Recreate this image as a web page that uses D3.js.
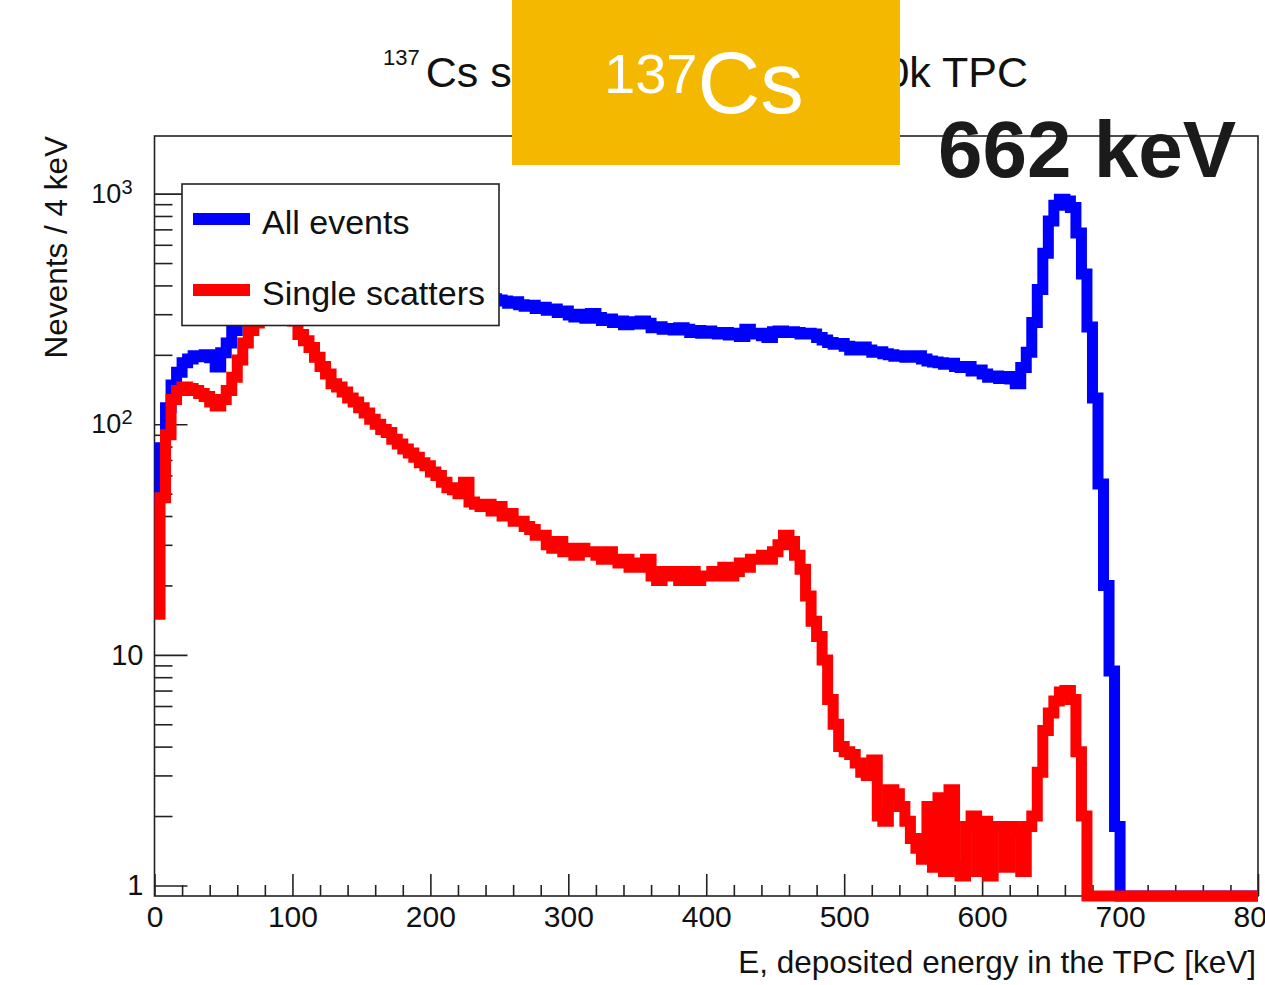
<!DOCTYPE html>
<html>
<head>
<meta charset="utf-8">
<script src="https://cdn.jsdelivr.net/npm/d3@7"></script>
<style>
    body { margin: 0; background: #ffffff; }
    svg { display: block; font-family: "Liberation Sans", Arial, Helvetica, sans-serif; }
</style>
</head>
<body>
<svg id="chart"></svg>
<script>
// Histogram settings: 200 bins of 4 keV, 0 - 800 keV
let binWidth = 4;
let xDomain = [0, 800];
let yDomain = [0.9, 1778];

// Counts per bin (0 = empty bin)
let allEvents = [
    48, 79, 118, 148, 168, 185, 192, 198, 196, 200,
    194, 177, 204, 225, 255, 290, 330, 380, 420, 450,
    470, 480, 476, 465, 455, 440, 430, 422, 415, 410,
    405, 400, 398, 395, 392, 390, 388, 385, 383, 380,
    382, 378, 375, 376, 372, 370, 372, 368, 365, 366,
    362, 360, 362, 358, 356, 357, 354, 352, 353, 350,
    348, 350, 346, 342, 335, 340, 330, 325, 328, 318,
    322, 312, 316, 305, 310, 298, 292, 300, 288, 302,
    290, 282, 286, 276, 280, 270, 278, 272, 280, 274,
    262, 265, 258, 260, 256, 262, 258, 250, 255, 248,
    254, 250, 246, 250, 244, 248, 240, 258, 246, 248,
    242, 238, 252, 254, 250, 252, 250, 246, 248, 246,
    238, 232, 226, 222, 224, 218, 210, 214, 216, 210,
    205, 206, 202, 200, 197, 198, 195, 196, 198, 192,
    188, 186, 185, 182, 184, 178, 176, 178, 170, 172,
    165, 160, 162, 158, 161, 157, 150, 176, 205, 276,
    384, 551, 760, 890, 945, 930, 870, 675, 448, 264,
    130, 55, 20, 8.5, 1.8, 0, 0, 0, 0, 0,
    0, 0, 0, 0, 0, 0, 0, 0, 0, 0,
    0, 0, 0, 0, 0, 0, 0, 0, 0, 0
];

let singleScatters = [
    15, 48, 90, 128, 140, 145, 143, 140, 136, 132,
    125, 120, 128, 140, 160, 190, 225, 255, 275, 290,
    300, 305, 300, 295, 290, 280, 245, 230, 215, 195,
    178, 165, 150, 145, 138, 130, 125, 118, 112, 105,
    100, 95, 92, 86, 82, 78, 75, 72, 68, 66,
    62, 60, 56, 53, 52, 50, 56, 46, 45, 44,
    45, 42, 44, 40, 41, 38, 38, 36, 35, 33,
    33, 30, 29, 31, 28, 29, 27, 29, 28, 28,
    27, 26, 28, 26, 25, 26, 24, 25, 24, 26,
    22, 21, 23, 22, 23, 21, 22, 23, 21, 22,
    22, 23, 22, 24, 22, 23, 25, 24, 26, 26,
    27, 26, 28, 30, 33, 31, 27, 23.5, 18, 14,
    12, 9.5, 6.4, 5.0, 4.0, 3.8, 3.7, 3.4, 3.1, 3.0,
    3.5, 2.0, 1.9, 2.6, 2.5, 2.2, 1.9, 1.6, 1.45, 1.3,
    2.2, 1.2, 2.4, 1.15, 2.6, 1.2, 1.1, 1.8, 2.0, 1.15,
    1.9, 1.1, 1.8, 1.8, 1.2, 1.8, 1.7, 1.15, 1.8, 2.0,
    3.1, 4.7, 5.6, 6.3, 6.9, 7.0, 6.4, 3.8, 2.0, 0,
    0, 0, 0, 0, 0, 0, 0, 0, 0, 0,
    0, 0, 0, 0, 0, 0, 0, 0, 0, 0,
    0, 0, 0, 0, 0, 0, 0, 0, 0, 0
];

// Tick labels
let xTickValues = [0, 100, 200, 300, 400, 500, 600, 700, 800];
let yTickValues = [1, 10, 100, 1000];
let yTickBase = ["1", "10", "10", "10"];
let yTickExp = ["", "", "2", "3"];

let legendNames = ["All events", "Single scatters"];
let seriesColors = ["#0000ff", "#ff0000"];

/*
 * Draws the whole picture
 */
function drawChart(){
    let width = 1265;
    let height = 985;

    // Frame of the plot
    let left = 154.5;
    let right = 1258;
    let top = 136;
    let bottom = 896;

    let lineColor = "#222222";
    let histWidth = 11;

    let svg = d3.select("#chart").attr("width", width).attr("height", height);

    svg.append("rect")
        .attr("width", width)
        .attr("height", height)
        .attr("fill", "#ffffff");

    let x = d3.scaleLinear().domain(xDomain).range([left, right]);
    let y = d3.scaleLog().domain(yDomain).range([bottom, top]);

    // Frame
    svg.append("rect")
        .attr("x", left)
        .attr("y", top)
        .attr("width", right - left)
        .attr("height", bottom - top)
        .attr("fill", "none")
        .attr("stroke", lineColor)
        .attr("stroke-width", 1.6);

    // X axis, major and minor ticks pointing into the frame
    let xMinor = d3.range(0, 801, 20).filter(function(d){ return d % 100 !== 0; });

    let xAxisMajor = svg.append("g")
        .attr("transform", "translate(0," + bottom + ")")
        .style("color", lineColor)
        .call(d3.axisBottom(x).tickValues(xTickValues).tickSize(-22).tickSizeOuter(0).tickPadding(10).tickFormat(d3.format("d")));
    xAxisMajor.select(".domain").remove();
    xAxisMajor.selectAll("line").attr("stroke-width", 1.6);
    xAxisMajor.selectAll("text")
        .attr("font-size", 30)
        .attr("font-family", "Liberation Sans, Arial, sans-serif")
        .attr("fill", "#111111");

    let xAxisMinor = svg.append("g")
        .attr("transform", "translate(0," + bottom + ")")
        .style("color", lineColor)
        .call(d3.axisBottom(x).tickValues(xMinor).tickSize(-11).tickSizeOuter(0).tickFormat(""));
    xAxisMinor.select(".domain").remove();
    xAxisMinor.selectAll("line").attr("stroke-width", 1.6);

    // Y axis (log), majors at the decades, minors 2..9
    let yMinor = [];
    [1, 10, 100].forEach(function(decade){
        for(let k = 2; k <= 9; k++){
            if(decade * k < yDomain[1]) yMinor.push(decade * k);
        }
    });

    let yAxisMajor = svg.append("g")
        .attr("transform", "translate(" + left + ",0)")
        .style("color", lineColor)
        .call(d3.axisLeft(y).tickValues(yTickValues).tickSize(-33).tickSizeOuter(0).tickPadding(11)
            .tickFormat(function(d, i){ return yTickBase[i]; }));
    yAxisMajor.select(".domain").remove();
    yAxisMajor.selectAll("line").attr("stroke-width", 1.6);
    yAxisMajor.selectAll("text")
        .attr("font-size", 29)
        .attr("font-family", "Liberation Sans, Arial, sans-serif")
        .attr("fill", "#111111")
        .each(function(d, i){
            if(yTickExp[i] !== ""){
                d3.select(this).attr("x", -22).attr("font-size", 27);
                d3.select(this).append("tspan")
                    .attr("dy", "-0.45em")
                    .attr("font-size", 20)
                    .text(yTickExp[i]);
            }
        });

    let yAxisMinor = svg.append("g")
        .attr("transform", "translate(" + left + ",0)")
        .style("color", lineColor)
        .call(d3.axisLeft(y).tickValues(yMinor).tickSize(-18).tickSizeOuter(0).tickFormat(""));
    yAxisMinor.select(".domain").remove();
    yAxisMinor.selectAll("line").attr("stroke-width", 1.6);

    // Step histograms, empty bins are drawn on the bottom of the frame
    function stepPoints(values){
        let pts = [];
        values.forEach(function(v, i){
            let yy = v > 0 ? y(v) : y(yDomain[0]);
            pts.push([x(i * binWidth), yy]);
            pts.push([x((i + 1) * binWidth), yy]);
        });
        return pts;
    }

    let line = d3.line();

    svg.selectAll(".histLine")
        .data([allEvents, singleScatters])
        .enter()
        .append("path")
        .attr("class", "histLine")
        .attr("d", function(values){ return line(stepPoints(values)); })
        .attr("fill", "none")
        .attr("stroke", function(values, index){ return seriesColors[index]; })
        .attr("stroke-width", histWidth)
        .attr("stroke-linejoin", "miter")
        .attr("stroke-linecap", "butt");

    // Legend
    svg.append("rect")
        .attr("x", 182)
        .attr("y", 184)
        .attr("width", 317)
        .attr("height", 141.5)
        .attr("fill", "#ffffff")
        .attr("stroke", lineColor)
        .attr("stroke-width", 1.6);

    let legendY = [219, 290];
    legendNames.forEach(function(name, index){
        svg.append("line")
            .attr("x1", 193)
            .attr("x2", 250)
            .attr("y1", legendY[index])
            .attr("y2", legendY[index])
            .attr("stroke", seriesColors[index])
            .attr("stroke-width", 12);
        svg.append("text")
            .attr("x", 262)
            .attr("y", legendY[index] + 15)
            .attr("font-size", 34)
            .attr("fill", "#111111")
            .text(name);
    });

    // Axis titles
    svg.append("text")
        .attr("x", 1256)
        .attr("y", 973)
        .attr("text-anchor", "end")
        .attr("font-size", 31.5)
        .attr("fill", "#111111")
        .text("E, deposited energy in the TPC [keV]");

    svg.append("text")
        .attr("transform", "translate(67," + top + ") rotate(-90)")
        .attr("text-anchor", "end")
        .attr("font-size", 31.5)
        .attr("fill", "#111111")
        .text("Nevents / 4 keV");

    // Title, the middle part is covered by the yellow box
    let title = svg.append("text")
        .attr("x", 383)
        .attr("y", 87)
        .attr("font-size", 43)
        .attr("fill", "#111111");
    title.append("tspan").attr("font-size", 22).attr("dy", -22).text("137");
    title.append("tspan").attr("dy", 22).attr("dx", 6).text("Cs spectrum in the");

    svg.append("text")
        .attr("x", 1028)
        .attr("y", 87)
        .attr("text-anchor", "end")
        .attr("font-size", 43)
        .attr("fill", "#111111")
        .text("100k TPC");

    // Yellow label box
    svg.append("rect")
        .attr("x", 512)
        .attr("y", 0)
        .attr("width", 388)
        .attr("height", 165)
        .attr("fill", "#f5b800");

    let boxLabel = svg.append("text")
        .attr("x", 604)
        .attr("y", 113)
        .attr("fill", "#ffffff");
    boxLabel.append("tspan").attr("font-size", 56).attr("dy", -20).text("137");
    boxLabel.append("tspan").attr("font-size", 87).attr("dy", 20).text("Cs");

    svg.append("text")
        .attr("x", 938)
        .attr("y", 177)
        .attr("font-size", 80)
        .attr("font-weight", "bold")
        .attr("fill", "#1b1b1b")
        .text("662 keV");
}

drawChart();
</script>
</body>
</html>
